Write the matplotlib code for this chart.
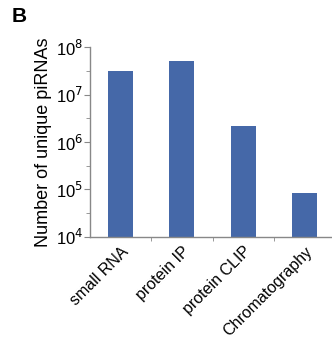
import numpy as np
import matplotlib.pyplot as plt
from matplotlib.ticker import FixedLocator, NullFormatter

plt.rcParams['font.family'] = ['Liberation Sans', 'DejaVu Sans']

# Dane do wykresu
metody = ['small RNA', 'protein IP', 'protein CLIP', 'Chromatography']
liczba_pirna = [3.1e7, 5.1e7, 2.2e6, 8.5e4]

fig = plt.figure(figsize=(3.32, 3.51), dpi=100)
ax = fig.add_axes([0.271, 0.325, 0.729, 0.541])

x = np.arange(len(metody))
ax.bar(x, liczba_pirna, width=0.41, color='#4568a8')

ax.set_yscale('log')
ax.set_ylim(1e4, 1e8)
ax.set_xlim(-0.5, 3.45)

ax.yaxis.set_major_locator(FixedLocator([1e4, 1e5, 1e6, 1e7, 1e8]))
ax.yaxis.set_minor_locator(FixedLocator([10 ** (k + 0.5) for k in range(4, 8)]))
ax.yaxis.set_minor_formatter(NullFormatter())
ax.set_yticklabels(['10$^4$', '10$^5$', '10$^6$', '10$^7$', '10$^8$'])

ax.set_xticks(x)
ax.set_xticklabels(metody, rotation=45, ha='right', rotation_mode='anchor', fontsize=11.5)
ax.xaxis.set_minor_locator(FixedLocator([0.5, 1.5, 2.5]))

ax.tick_params(axis='x', which='major', length=0, pad=5)
ax.tick_params(axis='x', which='minor', length=3, color='#888888')
ax.tick_params(axis='y', which='major', length=4, color='#888888', labelsize=12, pad=1)
ax.tick_params(axis='y', which='minor', length=3, color='#888888')

for s in ['top', 'right']:
    ax.spines[s].set_visible(False)
for s in ['left', 'bottom']:
    ax.spines[s].set_color('#888888')
    ax.spines[s].set_linewidth(1.0)

ax.set_ylabel('Number of unique piRNAs', fontsize=13, labelpad=3)
fig.text(0.035, 0.98, 'B', fontsize=15, fontweight='bold', va='top', ha='left')

fig.savefig('out.png', dpi=100)
